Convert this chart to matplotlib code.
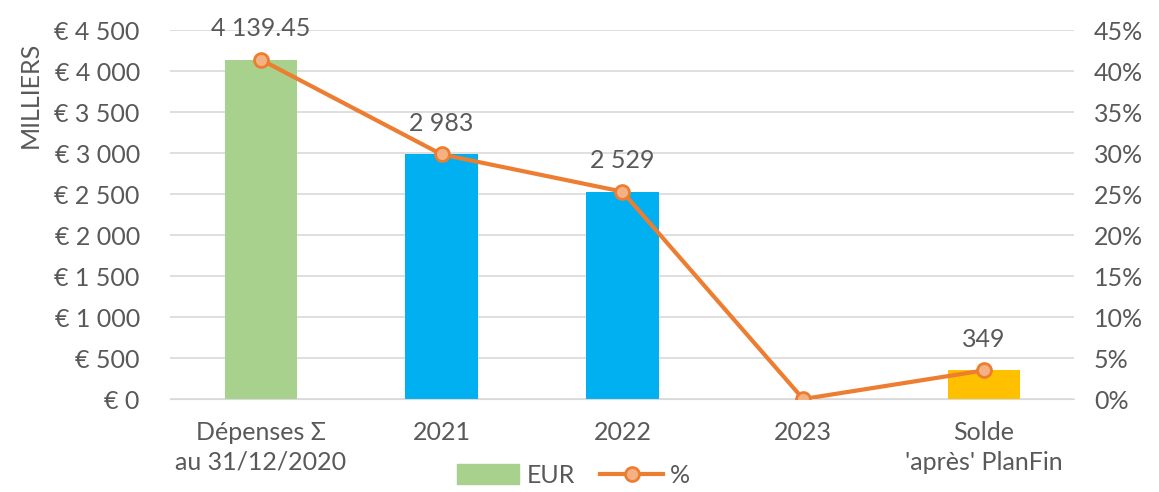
import matplotlib.pyplot as plt
from matplotlib.ticker import FuncFormatter, MultipleLocator
from matplotlib.lines import Line2D
from matplotlib.patches import Patch

#Data
categories = ["Dépenses Σ\nau 31/12/2020", "2021", "2022", "2023", "Solde\n'après' PlanFin"]
eur = [4139.45, 2983, 2529, 0, 349]
pct = [41.39, 29.83, 25.29, 0.0, 3.49]
bar_labels = ["4 139.45", "2 983", "2 529", "", "349"]
bar_colors = ["#A9D18E", "#00B0F0", "#00B0F0", "#00B0F0", "#FFC000"]

#Style
GREY = "#595959"
ORANGE = "#ED7D31"
FS = 18
plt.rcParams['font.family'] = ['Lato', 'DejaVu Sans']
plt.rcParams['font.size'] = FS

fig = plt.figure(figsize=(11.59, 4.92), dpi=100)
ax = fig.add_axes([0.147, 0.189, 0.780, 0.750])
ax2 = ax.twinx()

x = range(len(categories))
ax.bar(x, eur, width=0.4, color=bar_colors, zorder=2)
for i, lab in enumerate(bar_labels):
    if lab:
        ax.annotate(lab, (i, eur[i]), xytext=(0, 14), textcoords="offset points",
                    ha="center", va="bottom", color=GREY, fontsize=FS)

ax2.plot(x, [p / 100 for p in pct], color=ORANGE, lw=3, marker="o", markersize=10,
         markerfacecolor="#F4B183", markeredgecolor=ORANGE, markeredgewidth=2, zorder=3)

#Axes
ax.set_xlim(-0.5, 4.5)
ax.set_ylim(0, 4500)
ax2.set_ylim(0, 0.45)
ax.yaxis.set_major_locator(MultipleLocator(500))
ax2.yaxis.set_major_locator(MultipleLocator(0.05))
ax.yaxis.set_major_formatter(FuncFormatter(lambda v, p: "€ " + f"{v:,.0f}".replace(",", " ")))
ax2.yaxis.set_major_formatter(FuncFormatter(lambda v, p: f"{v * 100:.0f}%"))
ax.set_xticks(list(x))
ax.set_xticklabels(categories, linespacing=1.35)

ax.grid(axis="y", color="#D9D9D9", lw=1.2, zorder=0)
ax.set_axisbelow(True)
for a in (ax, ax2):
    for s in ["top", "left", "right"]:
        a.spines[s].set_visible(False)
    a.spines["bottom"].set_color("#D9D9D9")
    a.tick_params(length=0, colors=GREY, labelsize=FS)
ax2.spines["bottom"].set_visible(False)
ax.tick_params(axis="x", pad=16)
ax.tick_params(axis="y", pad=22)
ax2.tick_params(axis="y", pad=14)

fig.text(30 / 1159, 1 - 95 / 492, "MILLIERS", rotation=90, ha="center", va="center",
         color=GREY, fontsize=FS)

#Legend (sits at the very bottom edge, like the original)
handles = [Patch(color="#A9D18E"),
           Line2D([0], [0], color=ORANGE, lw=3, marker="o", markersize=10,
                  markerfacecolor="#F4B183", markeredgecolor=ORANGE, markeredgewidth=2)]
fig.legend(handles, ["EUR", "%"], loc="lower center", bbox_to_anchor=(0.495, -0.035),
           ncol=2, frameon=False, fontsize=FS, labelcolor=GREY, handlelength=2.5,
           handleheight=0.8, columnspacing=1.0, handletextpad=0.3)

fig.savefig("out.png", dpi=100)
